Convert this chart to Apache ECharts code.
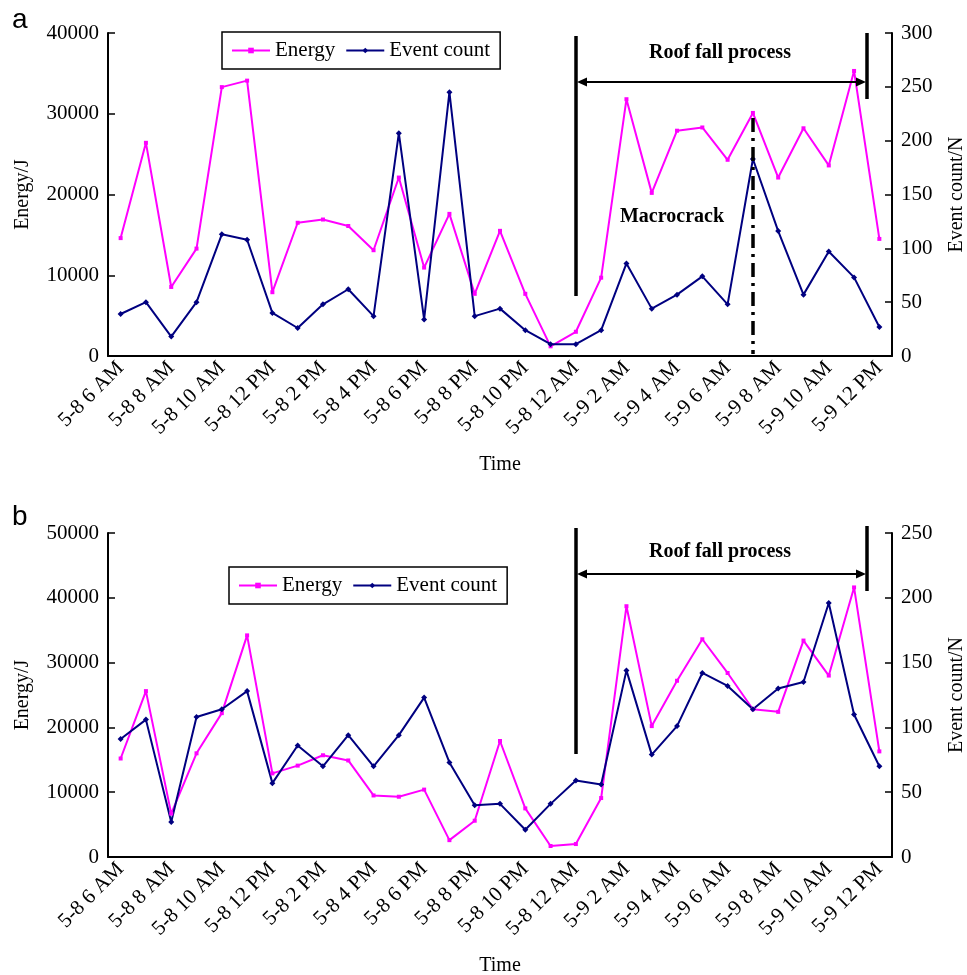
<!DOCTYPE html>
<html><head><meta charset="utf-8">
<script src="https://cdn.jsdelivr.net/npm/echarts@6/dist/echarts.min.js"></script>
<style>html,body{margin:0;padding:0;background:#fff}#c{width:967px;height:975px}</style>
</head><body><div id="c"></div>
<script>
const timeLabels = [
  "5-8 6 AM","5-8 7 AM","5-8 8 AM","5-8 9 AM","5-8 10 AM","5-8 11 AM","5-8 12 PM","5-8 1 PM",
  "5-8 2 PM","5-8 3 PM","5-8 4 PM","5-8 5 PM","5-8 6 PM","5-8 7 PM","5-8 8 PM","5-8 9 PM",
  "5-8 10 PM","5-8 11 PM","5-8 12 AM","5-9 1 AM","5-9 2 AM","5-9 3 AM","5-9 4 AM","5-9 5 AM",
  "5-9 6 AM","5-9 7 AM","5-9 8 AM","5-9 9 AM","5-9 10 AM","5-9 11 AM","5-9 12 PM"
];
const energyA = [14600,26400,8550,13300,33300,34100,7900,16500,16900,16100,13100,22100,10950,17600,7700,
  15500,7700,1200,3000,9700,31800,20200,27900,28300,24300,30100,22100,28200,23600,35300,14500];
const countA = [39,50,18,50,113,108,40,26,48,62,37,207,34,245,37,
  44,24,11,11,24,86,44,57,74,48,183,116,57,97,73,27];
const energyB = [15200,25600,6700,16000,22200,34200,12900,14100,15700,14900,9500,9300,10400,2600,5600,
  17900,7500,1700,2000,9100,38700,20200,27200,33600,28400,22800,22400,33400,28000,41600,16300];
const countB = [91,106,27,108,114,128,57,86,70,94,70,94,123,73,40,
  41,21,41,59,56,144,79,101,142,132,114,130,135,196,110,70];
const energyAxisA = {min:0, max:40000, interval:10000};
const countAxisA = {min:0, max:300, interval:50};
const energyAxisB = {min:0, max:50000, interval:10000};
const countAxisB = {min:0, max:250, interval:50};
const seriesNames = ["Energy","Event count"];
const roofStartIdx = 18, roofEndIdx = 29.5, macrocrackIdx = 25;

const FONT = "'Liberation Serif','Times New Roman',serif";
const MAG = '#ff00ff', NAVY = '#000080';
const chart = echarts.init(document.getElementById('c'), null, {renderer:'canvas'});

function xAxis(gi){
  return {
    type:'category', gridIndex:gi, data:timeLabels, boundaryGap:true,
    name:'Time', nameLocation:'middle', nameGap:99,
    nameTextStyle:{fontFamily:FONT, fontSize:20, color:'#000'},
    axisLine:{lineStyle:{color:'#000', width:2}},
    axisTick:{inside:true, length:6, interval:0, lineStyle:{color:'#000', width:1.5}},
    axisLabel:{interval:1, rotate:45, margin:9, fontFamily:FONT, fontSize:21, color:'#000'},
    splitLine:{show:false}
  };
}
function yAxis(gi, rng, pos, name, gap){
  return Object.assign({
    type:'value', gridIndex:gi, position:pos,
    name:name, nameLocation:'middle', nameGap:gap, nameRotate:90,
    nameTextStyle:{fontFamily:FONT, fontSize:20, color:'#000'},
    axisLine:{show:true, lineStyle:{color:'#000', width:2}},
    axisTick:{show:true, inside:true, length:7, lineStyle:{color:'#000', width:1.5}},
    axisLabel:{fontFamily:FONT, fontSize:21, color:'#000', margin:9, formatter:function(v){return String(v);}},
    splitLine:{show:false}
  }, rng);
}
function line(name, data, xi, yi, color, sym, size){
  return {name:name, type:'line', xAxisIndex:xi, yAxisIndex:yi, data:data,
    symbol:sym, symbolSize:size, showSymbol:true,
    lineStyle:{color:color, width:2}, itemStyle:{color:color}, z:3};
}
function legend(left, top){
  return {left:left, top:top, data:seriesNames, orient:'horizontal',
    borderColor:'#000', borderWidth:1.5, padding:[8,10,8,9], itemGap:10,
    itemWidth:38, itemHeight:7, selectedMode:false,
    textStyle:{fontFamily:FONT, fontSize:21, color:'#000'}};
}

chart.setOption({
  animation:false, backgroundColor:'#fff',
  grid:[{left:108, top:33, width:784, height:323, containLabel:false, outerBoundsMode:'none'},
        {left:108, top:533, width:784, height:324, containLabel:false, outerBoundsMode:'none'}],
  xAxis:[xAxis(0), xAxis(1)],
  yAxis:[
    yAxis(0, energyAxisA, 'left', 'Energy/J', 75),
    yAxis(0, countAxisA, 'right', 'Event count/N', 55),
    yAxis(1, energyAxisB, 'left', 'Energy/J', 75),
    yAxis(1, countAxisB, 'right', 'Event count/N', 55)
  ],
  legend:[legend(222,32), legend(229,567)],
  series:[
    line(seriesNames[0], energyA, 0, 0, MAG, 'rect', 4),
    line(seriesNames[1], countA, 0, 1, NAVY, 'diamond', 6),
    line(seriesNames[0], energyB, 1, 2, MAG, 'rect', 4),
    line(seriesNames[1], countB, 1, 3, NAVY, 'diamond', 6)
  ]
});

function px(xi, idx){
  const f = Math.floor(idx), r = idx - f;
  const a = chart.convertToPixel({xAxisIndex:xi}, f);
  if (!r) return a;
  const b = chart.convertToPixel({xAxisIndex:xi}, f+1);
  return a + (b-a)*r;
}
function roof(xi, barTop, barBottom, rTop, rBottom, arrowY, textY){
  const xL = Math.round(px(xi, roofStartIdx)), xR = Math.round(px(xi, roofEndIdx));
  const st = {stroke:'#000', lineWidth:3.5};
  return [
    {type:'line', shape:{x1:xL, y1:barTop, x2:xL, y2:barBottom}, style:st, z:10},
    {type:'line', shape:{x1:xR, y1:rTop, x2:xR, y2:rBottom}, style:st, z:10},
    {type:'line', shape:{x1:xL+6, y1:arrowY, x2:xR-6, y2:arrowY}, style:{stroke:'#000', lineWidth:2}, z:10},
    {type:'polygon', shape:{points:[[xL+1,arrowY],[xL+11,arrowY-4.5],[xL+11,arrowY+4.5]]}, style:{fill:'#000'}, z:10},
    {type:'polygon', shape:{points:[[xR-1,arrowY],[xR-11,arrowY-4.5],[xR-11,arrowY+4.5]]}, style:{fill:'#000'}, z:10},
    {type:'text', x:720, y:textY, style:{text:'Roof fall process', font:"bold 20px "+FONT, fill:'#000', textAlign:'center', textVerticalAlign:'middle'}, z:10}
  ];
}
const xM = Math.round(px(0, macrocrackIdx));
const g = [].concat(
  roof(0, 36, 296, 33, 99, 82, 53),
  roof(1, 528, 754, 526, 591, 574, 552),
  [
    {type:'line', shape:{x1:xM, y1:118, x2:xM, y2:354}, style:{stroke:'#000', lineWidth:3.5, lineDash:[14,6,3,6]}, z:10},
    {type:'text', x:672, y:217, style:{text:'Macrocrack', font:"bold 20px "+FONT, fill:'#000', textAlign:'center', textVerticalAlign:'middle'}, z:10},
    {type:'text', x:12, y:6, style:{text:'a', font:"28px 'Liberation Sans',Arial,sans-serif", fill:'#000'}, z:10},
    {type:'text', x:12, y:503, style:{text:'b', font:"28px 'Liberation Sans',Arial,sans-serif", fill:'#000'}, z:10}
  ]
);
chart.setOption({graphic:g});
</script></body></html>
